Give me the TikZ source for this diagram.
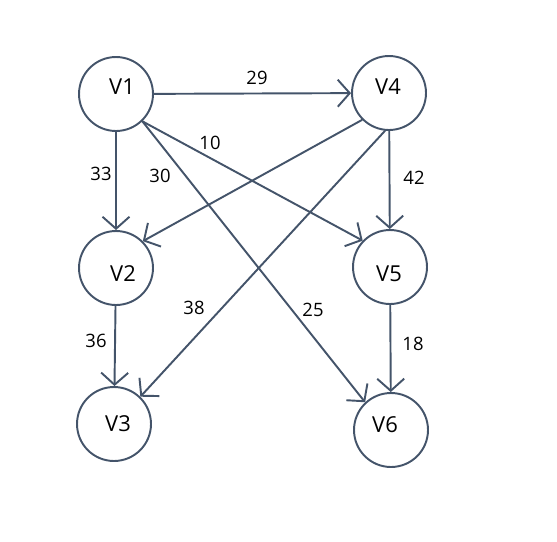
\documentclass[tikz,border=0pt]{standalone}
\usepackage{fontspec}
\setmainfont{Open Sans}
\usepackage{tikz}
\usetikzlibrary{arrows.meta, positioning}
\definecolor{edgegray}{HTML}{44546A}

\begin{document}
\begin{tikzpicture}[x=0.02cm, y=-0.02cm,
    vertex/.style={circle, draw=edgegray, line width=1.1pt, minimum size=1.48cm, inner sep=0pt},
    vname/.style={font=\fontsize{12.5}{14}\selectfont, inner sep=0pt},
    edge/.style={draw=edgegray, line width=1.1pt, -{Straight Barb[length=2.4mm, width=5.4mm, line width=1.1pt]}},
    wt/.style={font=\fontsize{10.5}{12}\selectfont, text=black}]
  \useasboundingbox (0,0) rectangle (557,541);
  % vertices (names sit a little off centre)
  \foreach \v/\cx/\cy/\dx/\dy in {V1/116/94/6/-7, V4/389/93/-1/-6, V2/116/268/7/6,
                                 V5/390/267/-1/7, V3/114/424/4/0, V6/391/430/-6/-5}{
    \node[vertex, label={[vname, shift={(\dx,\dy)}]center:\v}] (\v) at (\cx,\cy) {};
  }
  % straight edges
  \draw[edge] (V1) -- (V4);
  \draw[edge] (V1) -- (V2);
  \draw[edge] (V4) -- (V5);
  \draw[edge] (V2) -- (V3);
  \draw[edge] (V5) -- (V6);
  % crossing edges
  \draw[edge] (V1.314) -- (V5.136);
  \draw[edge] (V1.314) -- (V6.133);
  \draw[edge] (V4.225) -- (V2.45);
  \draw[edge] (V4.264) -- (V3.46);
  % weights
  \foreach \w/\px/\py in {29/257/78, 10/210/143, 33/101/174, 30/160/176, 42/414/178,
                         38/194/308, 25/313/310, 36/96/341, 18/413/344}{
    \node[wt] (w\w) at (\px,\py) {\w};
  }
\end{tikzpicture}
\end{document}
